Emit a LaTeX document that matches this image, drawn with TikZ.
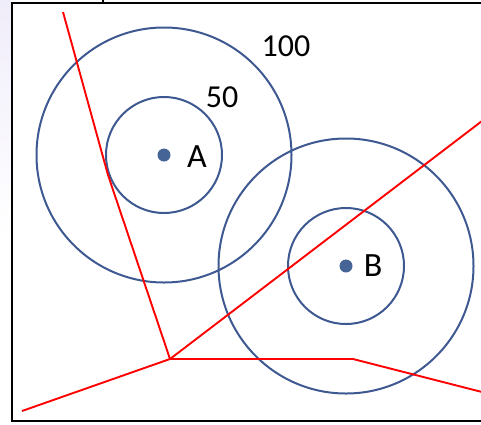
\documentclass[tikz,border=0pt]{standalone}
\usepackage{fontspec}
\setmainfont{Carlito}
\definecolor{ringblue}{RGB}{62,88,145}
\definecolor{dotblue}{RGB}{70,100,150}
\definecolor{lav}{RGB}{240,237,250}
\tikzset{
  ring/.style={circle, draw=ringblue, line width=2pt, inner sep=0pt},
  dot/.style={circle, fill=dotblue, inner sep=0pt, minimum size=13pt},
  lbl/.style={font=\fontsize{34}{38}\selectfont, inner sep=0pt},
  numlbl/.style={font=\fontsize{32}{36}\selectfont, inner sep=0pt},
  border/.style={red, line width=1.9pt, line join=round},
  frame/.style={black, line width=2.6pt}
}
\begin{document}
\begin{tikzpicture}[x=1pt,y=-1pt]
\useasboundingbox (0,0) rectangle (481,424);
\clip (0,0) rectangle (481,424);
\shade[top color=lav, bottom color=white] (0,0) rectangle (11,240);
% frame
\draw[frame] (490,3) -- (12,3) -- (12,421) -- (490,421);
\draw[black, line width=2pt] (103,0) -- (103,3);
% circles
\node[ring, minimum size=255pt] (A100) at (164,155) {};
\node[ring, minimum size=116pt] (A50) at (164,155) {};
\node[ring, minimum size=255pt] (B100) at (346,266) {};
\node[ring, minimum size=116pt] (B50) at (346,266) {};
\node[dot] (A) at (164,155) {};
\node[dot] (B) at (346,266) {};
\node[lbl] (Alab) at (197,157) {A};
\node[lbl] (Blab) at (373,266) {B};
\node[numlbl] (L100) at (286,46) {100};
\node[numlbl] (L50) at (222,97) {50};
% red boundary lines
\coordinate (J) at (170,359);
\coordinate (T) at (63,12);
\coordinate (K1) at (108,175);
\coordinate (LL) at (22,411);
\coordinate (UR) at (482,121);
\coordinate (H) at (353,359);
\coordinate (R) at (482,392);
\draw[border] (T) -- (K1) -- (J);
\draw[border] (LL) -- (J) -- (UR);
\draw[border] (J) -- (H) -- (R);
\end{tikzpicture}
\end{document}
